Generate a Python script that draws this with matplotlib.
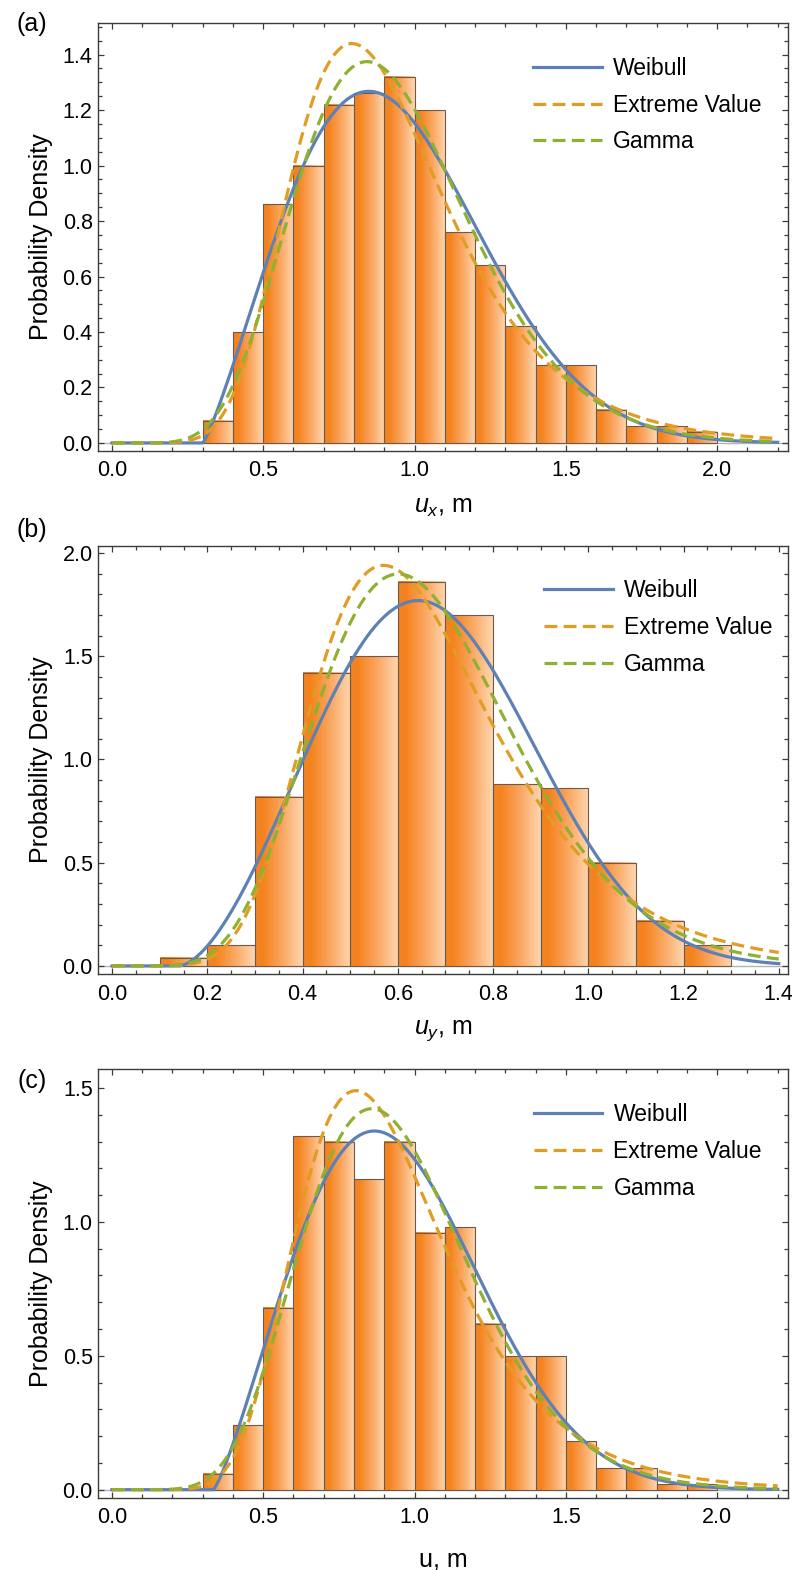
#!/usr/bin/env python3
"""
Histograms of displacement with fitted Weibull / Extreme Value / Gamma densities
"""

import math
import numpy as np
import matplotlib
matplotlib.use('Agg')
import matplotlib.pyplot as plt
from matplotlib.colors import LinearSegmentedColormap
from matplotlib.ticker import MultipleLocator, FormatStrFormatter

plt.rcParams['font.family'] = ['Liberation Sans', 'DejaVu Sans']
plt.rcParams['mathtext.fontset'] = 'custom'
plt.rcParams['mathtext.rm'] = 'Liberation Sans'
plt.rcParams['mathtext.it'] = 'Liberation Sans:italic'

# ---- data ----
edges_a = [0.3, 0.4, 0.5, 0.6, 0.7, 0.8, 0.9, 1.0, 1.1, 1.2, 1.3, 1.4, 1.5, 1.6, 1.7, 1.8, 1.9, 2.0]
dens_a = [0.08, 0.40, 0.86, 1.00, 1.22, 1.26, 1.32, 1.20, 0.76, 0.64, 0.42, 0.28, 0.28, 0.12, 0.06, 0.06, 0.04]

edges_b = [0.1, 0.2, 0.3, 0.4, 0.5, 0.6, 0.7, 0.8, 0.9, 1.0, 1.1, 1.2, 1.3]
dens_b = [0.04, 0.10, 0.82, 1.42, 1.50, 1.86, 1.70, 0.88, 0.86, 0.50, 0.22, 0.10]

edges_c = [0.3, 0.4, 0.5, 0.6, 0.7, 0.8, 0.9, 1.0, 1.1, 1.2, 1.3, 1.4, 1.5, 1.6, 1.7, 1.8, 1.9, 2.0]
dens_c = [0.06, 0.24, 0.68, 1.32, 1.30, 1.16, 1.30, 0.96, 0.98, 0.62, 0.50, 0.50, 0.18, 0.08, 0.08, 0.02, 0.02]

# fitted parameters: weibull (shape, scale, location), extreme value (alpha, beta), gamma (shape, scale)
weibull_a = [2.20, 0.7227, 0.300]
extreme_a = [0.793, 0.2555]
gamma_a = [9.60, 0.098]

weibull_b = [2.66, 0.600, 0.140]
extreme_b = [0.570, 0.1896]
gamma_b = [9.35, 0.072]

weibull_c = [2.24, 0.693, 0.335]
extreme_c = [0.806, 0.2469]
gamma_c = [10.54, 0.090]

x_max = [2.2, 1.4, 2.2]
legend_labels = ['Weibull', 'Extreme Value', 'Gamma']
x_labels = [r'$u_x$, m', r'$u_y$, m', 'u, m']
panel_tags = ['(a)', '(b)', '(c)']


def weibull_pdf(x, p):
    k, lam, loc = p
    z = np.clip((x - loc) / lam, 0, None)
    y = (k / lam) * z ** (k - 1) * np.exp(-z ** k)
    return np.where(x > loc, y, 0.0)


def extreme_pdf(x, p):
    a, b = p
    z = (x - a) / b
    return np.exp(-z) * np.exp(-np.exp(-z)) / b


def gamma_pdf(x, p):
    k, th = p
    xs = np.clip(x, 1e-9, None)
    return np.exp((k - 1) * np.log(xs) - xs / th - math.lgamma(k) - k * math.log(th))


# bar gradient (dark orange -> light peach)
bar_cmap = LinearSegmentedColormap.from_list(
    'bar', [(0.0, '#F08526'), (0.15, '#F5821C'), (0.55, '#FAA55E'), (1.0, '#FED6AE')])
grad = np.linspace(0, 1, 64).reshape(1, -1)

colors = ['#5E81B5', '#E19C24', '#8FB032']
frame_col = '#3c3c3c'

W, H = 792, 1570
fig = plt.figure(figsize=(W / 100, H / 100), dpi=100)

# axes boxes in pixels: (left, top, right, bottom)
boxes = [(98.3, 23, 788.3, 450.7), (98.3, 546, 788.3, 974), (98.3, 1069, 788.3, 1497.7)]
ylims = [(-0.028, 1.514), (-0.039, 2.034), (-0.030, 1.571)]
xlims = [(-0.045, 2.235), (-0.029, 1.42), (-0.045, 2.235)]
xmajor = [0.5, 0.2, 0.5]
xminor = [0.1, 0.05, 0.1]
ymajor = [0.2, 0.5, 0.5]
yminor = [0.05, 0.1, 0.1]
leg_pos = [(0.630, 0.921), (0.646, 0.922), (0.631, 0.920)]
xlabel_pad = [10, 10, 14]
tag_pos = [(32, 24), (32, 530), (32, 1081)]

edges_all = [edges_a, edges_b, edges_c]
dens_all = [dens_a, dens_b, dens_c]
weib_all = [weibull_a, weibull_b, weibull_c]
ext_all = [extreme_a, extreme_b, extreme_c]
gam_all = [gamma_a, gamma_b, gamma_c]

for i in range(3):
    l, t, r, b = boxes[i]
    ax = fig.add_axes([l / W, 1 - b / H, (r - l) / W, (b - t) / H])

    edges = edges_all[i]
    dens = dens_all[i]
    for j in range(len(dens)):
        x0, x1 = edges[j], edges[j + 1]
        ax.imshow(grad, extent=[x0, x1, 0, dens[j]], aspect='auto', cmap=bar_cmap,
                  interpolation='bilinear', zorder=1)
    ax.bar(edges[:-1], dens, width=np.diff(edges), align='edge', facecolor='none',
           edgecolor='#6e5a4c', linewidth=0.8, zorder=2)

    ax.axhline(0, color='#b5b5b5', lw=1.0, zorder=0.5)

    xs = np.linspace(0, x_max[i], 800)
    ax.plot(xs, weibull_pdf(xs, weib_all[i]), color=colors[0], lw=2.3, zorder=3,
            label=legend_labels[0])
    ax.plot(xs, extreme_pdf(xs, ext_all[i]), color=colors[1], lw=2.3, zorder=4,
            linestyle=(0, (4, 2)), label=legend_labels[1])
    ax.plot(xs, gamma_pdf(xs, gam_all[i]), color=colors[2], lw=2.3, zorder=5,
            linestyle=(0, (4, 2)), label=legend_labels[2])

    ax.set_xlim(*xlims[i])
    ax.set_ylim(*ylims[i])
    ax.xaxis.set_major_locator(MultipleLocator(xmajor[i]))
    ax.xaxis.set_minor_locator(MultipleLocator(xminor[i]))
    ax.yaxis.set_major_locator(MultipleLocator(ymajor[i]))
    ax.yaxis.set_minor_locator(MultipleLocator(yminor[i]))
    ax.xaxis.set_major_formatter(FormatStrFormatter('%.1f'))
    ax.yaxis.set_major_formatter(FormatStrFormatter('%.1f'))

    for s in ax.spines.values():
        s.set_color(frame_col)
        s.set_linewidth(1.0)
    ax.tick_params(which='both', direction='in', top=True, right=True, color=frame_col,
                   width=0.9, labelsize=15.5)
    ax.tick_params(which='major', length=4.5)
    ax.tick_params(which='minor', length=2.7)
    ax.tick_params(axis='x', which='major', pad=7)
    ax.tick_params(axis='y', which='major', pad=4)

    ax.set_ylabel('Probability Density', fontsize=18, labelpad=7)
    ax.set_xlabel(x_labels[i], fontsize=18, labelpad=xlabel_pad[i])

    ax.legend(loc='upper left', bbox_to_anchor=leg_pos[i], frameon=False, fontsize=16.5,
              handlelength=3.0, handletextpad=0.48, labelspacing=0.6, borderpad=0,
              borderaxespad=0)

    fig.text(tag_pos[i][0] / W, 1 - tag_pos[i][1] / H, panel_tags[i], fontsize=18,
             ha='center', va='center')

plt.savefig('out.png', dpi=100)
plt.close()
